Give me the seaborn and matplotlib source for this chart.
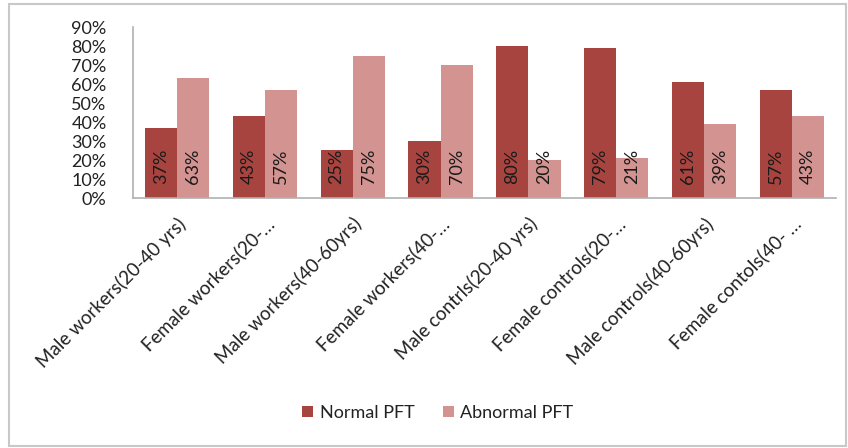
import matplotlib
matplotlib.use("Agg")
import matplotlib.pyplot as plt
from matplotlib.patches import Rectangle
import seaborn as sns
import pandas as pd

categories = [
    "Male workers(20-40 yrs)",
    "Female workers(20-\u2026",
    "Male workers(40-60yrs)",
    "Female workers(40-\u2026",
    "Male contrls(20-40 yrs)",
    "Female controls(20-\u2026",
    "Male controls(40-60yrs)",
    "Female contols(40- \u2026",
]
normal_pft = [0.37, 0.43, 0.25, 0.30, 0.80, 0.79, 0.61, 0.57]
abnormal_pft = [0.63, 0.57, 0.75, 0.70, 0.20, 0.21, 0.39, 0.43]
series_names = ["Normal PFT", "Abnormal PFT"]
y_ticks = [0, 0.1, 0.2, 0.3, 0.4, 0.5, 0.6, 0.7, 0.8, 0.9]

df = pd.DataFrame({
    "group": categories * 2,
    "value": normal_pft + abnormal_pft,
    "series": [series_names[0]] * len(categories) + [series_names[1]] * len(categories),
})

sns.set_theme(style="white")
plt.rcParams["font.family"] = ["Lato", "DejaVu Sans"]

fig = plt.figure(figsize=(8.48, 4.48), dpi=100)
ax = fig.add_axes([133 / 848, 1 - 198 / 448, (836 - 133) / 848, (198 - 27) / 448])

palette = {series_names[0]: "#A8443F", series_names[1]: "#D39391"}
sns.barplot(data=df, x="group", y="value", hue="series", palette=palette,
            width=0.73, linewidth=0, saturation=1, ax=ax, legend=True)

ax.set_ylim(0, 0.9)
ax.set_xlim(-0.5, len(categories) - 0.5)
ax.set_yticks(y_ticks)
ax.set_yticklabels([f"{int(round(t * 100))}%" for t in y_ticks], fontsize=13, color="#222222")
ax.tick_params(axis="y", length=0, pad=19)
ax.tick_params(axis="x", length=0, pad=12)
ax.set_xticks(range(len(categories)))
ax.set_xticklabels(categories, rotation=45, ha="right", rotation_mode="anchor",
                   fontsize=13.5, color="#222222")
ax.set_xlabel("")
ax.set_ylabel("")

for side in ["top", "right"]:
    ax.spines[side].set_visible(False)
for side in ["left", "bottom"]:
    ax.spines[side].set_color("#b0b0b0")
    ax.spines[side].set_linewidth(1.2)

# value labels written upright inside each bar, near its base
for container in ax.containers:
    for patch in container:
        h = patch.get_height()
        ax.text(patch.get_x() + patch.get_width() / 2, 0.165, f"{int(round(h * 100))}%",
                rotation=90, ha="center", va="center", fontsize=13, color="#1a1a1a")

leg = ax.legend(loc="center", bbox_to_anchor=(438 / 848, 1 - 413 / 448),
                bbox_transform=fig.transFigure, ncol=2, frameon=False, fontsize=13,
                handlelength=0.6, handleheight=0.6, columnspacing=1.6, handletextpad=0.35)
for t in leg.get_texts():
    t.set_color("#222222")

# chart frame
fig.patches.append(Rectangle((9 / 848, 2 / 448), 837 / 848, 442 / 448,
                             transform=fig.transFigure, fill=False,
                             edgecolor="#c8c8c8", linewidth=1.5))

fig.savefig("out.png", dpi=100)
